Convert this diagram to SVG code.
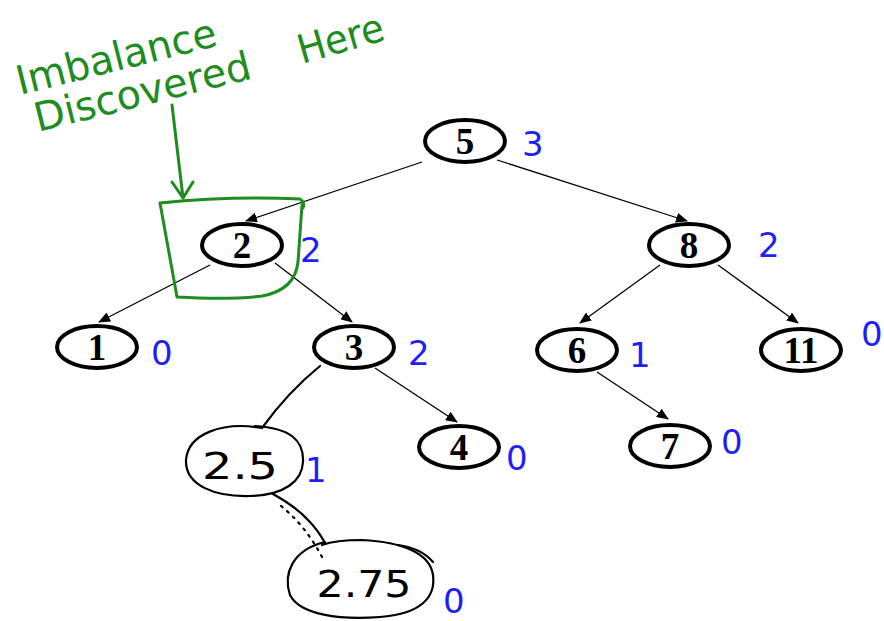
<svg xmlns="http://www.w3.org/2000/svg" width="884" height="621" viewBox="0 0 884 621">
<defs>
<style>
.node{fill:#fff;stroke:#000;stroke-width:4}
.lbl{font-family:"Liberation Serif",serif;font-weight:bold;font-size:37px;text-anchor:middle;fill:#000}
.edge{stroke:#000;stroke-width:1.3;fill:none}
.hand{stroke:#000;stroke-width:2.2;fill:none;stroke-linecap:round}
.bal{font-family:"DejaVu Sans","Liberation Sans",sans-serif;fill:#1f1ff5;font-size:34px}
.hw{font-family:"DejaVu Sans","Liberation Sans",sans-serif;fill:#000;font-size:38px}
.gt{font-family:"DejaVu Sans","Liberation Sans",sans-serif;fill:#1e8c1e;font-size:40px}
.green{stroke:#1e8c1e;stroke-width:3;fill:none;stroke-linecap:round;stroke-linejoin:round}
</style>
<marker id="ah" markerWidth="12" markerHeight="10" refX="11" refY="5" orient="auto" markerUnits="userSpaceOnUse">
<path d="M0,0 L12,5 L0,10 z" fill="#000"/>
</marker>
</defs>

<g id="connectors">
<line class="edge" x1="422" y1="162" x2="246" y2="221" marker-end="url(#ah)"/>
<line class="edge" x1="497" y1="160" x2="687" y2="221" marker-end="url(#ah)"/>
<line class="edge" x1="210" y1="265" x2="99" y2="322" marker-end="url(#ah)"/>
<line class="edge" x1="275" y1="263" x2="352" y2="322" marker-end="url(#ah)"/>
<line class="edge" x1="660" y1="265" x2="580" y2="323" marker-end="url(#ah)"/>
<line class="edge" x1="718" y1="265" x2="798" y2="323" marker-end="url(#ah)"/>
<line class="edge" x1="597" y1="372" x2="668" y2="419" marker-end="url(#ah)"/>
<line class="edge" x1="375" y1="368" x2="457" y2="422" marker-end="url(#ah)"/>
<path class="hand" d="M320,366 Q288,392 262,428"/>
<path class="hand" d="M273,494 Q295,506 308,520 Q318,530 325,543"/>
<path class="hand" d="M281,506 Q305,525 322,557" stroke-width="1.5" stroke-dasharray="2 6"/>
</g>

<g id="node-5"><ellipse class="node" cx="465" cy="141" rx="40" ry="21"/><text class="lbl" x="465" y="154">5</text></g>
<g id="node-2"><ellipse class="node" cx="242" cy="245" rx="40" ry="21"/><text class="lbl" x="242" y="258">2</text></g>
<g id="node-8"><ellipse class="node" cx="689" cy="245" rx="40" ry="21"/><text class="lbl" x="689" y="258">8</text></g>
<g id="node-1"><ellipse class="node" cx="97" cy="347" rx="40" ry="21"/><text class="lbl" x="97" y="360">1</text></g>
<g id="node-3"><ellipse class="node" cx="354" cy="347" rx="40" ry="21"/><text class="lbl" x="354" y="360">3</text></g>
<g id="node-6"><ellipse class="node" cx="577" cy="350" rx="40" ry="21"/><text class="lbl" x="577" y="363">6</text></g>
<g id="node-11"><ellipse class="node" cx="801" cy="350" rx="40" ry="21"/><text class="lbl" x="801" y="363">11</text></g>
<g id="node-4"><ellipse class="node" cx="459" cy="447" rx="40" ry="21"/><text class="lbl" x="459" y="460">4</text></g>
<g id="node-7"><ellipse class="node" cx="670" cy="446" rx="40" ry="21"/><text class="lbl" x="670" y="459" font-weight="normal">7</text></g>

<g id="node-2.5">
<path class="hand" d="M262,428 C222,421 188,434 186,460 C185,486 216,497 250,496 C285,495 302,481 303,462 C304,440 290,428 255,426"/>
<text class="hw" x="240" y="479" text-anchor="middle" textLength="76" lengthAdjust="spacingAndGlyphs">2.5</text>
</g>
<g id="node-2.75">
<path class="hand" d="M325,542 C292,550 283,574 290,595 C300,615 340,620 380,617 C420,614 436,598 433,575 C430,553 402,542 362,540 C346,540 333,541 322,545"/>
<path class="hand" d="M398,545 Q421,548 433,562"/>
<text class="hw" x="364" y="597" text-anchor="middle" textLength="95" lengthAdjust="spacingAndGlyphs">2.75</text>
</g>

<g id="balances">
<text class="bal" x="522" y="156" font-size="46">3</text>
<text class="bal" x="300" y="262">2</text>
<text class="bal" x="758" y="257">2</text>
<text class="bal" x="151" y="365" font-size="26">0</text>
<text class="bal" x="408" y="365">2</text>
<text class="bal" x="629" y="367" font-size="26">1</text>
<text class="bal" x="861" y="346" font-size="26">0</text>
<text class="bal" x="506" y="470" font-size="32">0</text>
<text class="bal" x="721" y="454" font-size="26">0</text>
<text class="bal" x="305" y="482" font-size="32">1</text>
<text class="bal" x="443" y="613" font-size="20">0</text>
</g>

<g id="annotation">
<text class="gt" x="20" y="95" transform="rotate(-14 20 95)" textLength="205" lengthAdjust="spacingAndGlyphs">Imbalance</text>
<text class="gt" x="38" y="132" transform="rotate(-14 38 132)" textLength="222" lengthAdjust="spacingAndGlyphs">Discovered</text>
<text class="gt" x="302" y="64" transform="rotate(-16 302 64)" textLength="88" lengthAdjust="spacingAndGlyphs">Here</text>
<path class="green" d="M172,105 L183,198 M172,182 L183,198 L193,182"/>
<path class="green" d="M160,203 Q230,196 300,199 Q305,202 303,208 M160,203 L177,297 Q230,300 262,296 Q295,290 298,262 L302,205"/>
</g>
</svg>
